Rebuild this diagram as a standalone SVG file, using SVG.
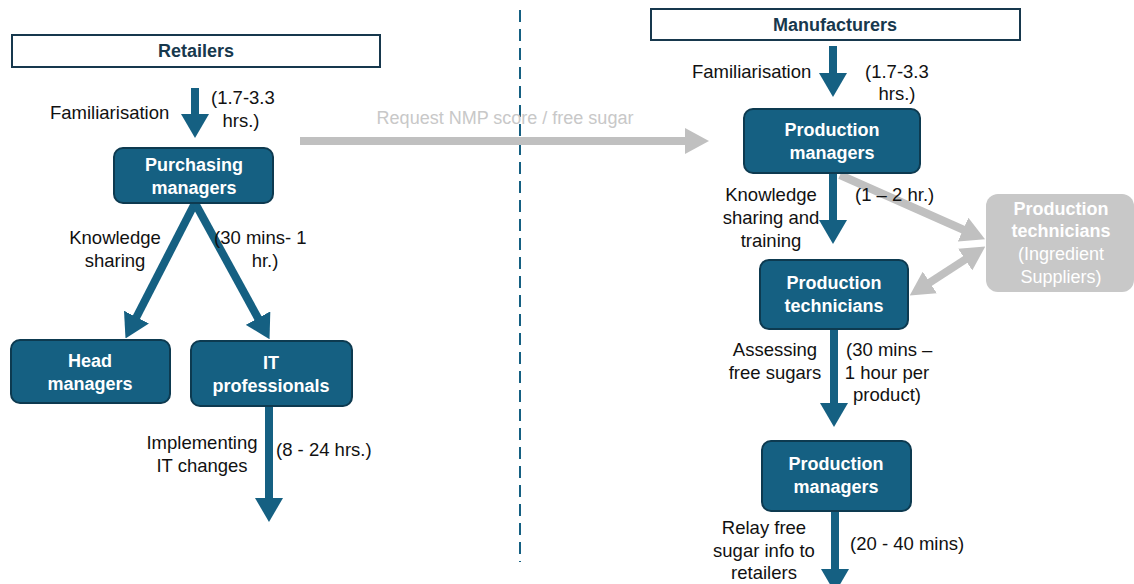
<svg xmlns="http://www.w3.org/2000/svg" width="1134" height="584" viewBox="0 0 1134 584">
<defs>
<style>
.hdr{fill:#fff;stroke:#17384d;stroke-width:2}
.hdrt{font-family:"Liberation Sans",Arial,sans-serif;font-weight:bold;font-size:18px;fill:#17384d;text-anchor:middle}
.node{fill:#156082;stroke:#0d3a50;stroke-width:2}
.nt{font-family:"Liberation Sans",Arial,sans-serif;font-weight:bold;font-size:18px;fill:#fff;text-anchor:middle}
.gnode{fill:#c8c8c8}
.gt{font-family:"Liberation Sans",Arial,sans-serif;font-size:18px;fill:#fff;text-anchor:middle}
.lbl{font-family:"Liberation Sans",Arial,sans-serif;font-size:18.5px;fill:#111}
.glbl{font-family:"Liberation Sans",Arial,sans-serif;font-size:18px;fill:#c8c8c8}
.blue{stroke:#156082;stroke-width:8;fill:none}
.gray{stroke:#c0c0c0;stroke-width:8;fill:none}
</style>
<marker id="hb" markerUnits="userSpaceOnUse" viewBox="0 0 24 28" refX="1" refY="14" markerWidth="24" markerHeight="28" orient="auto-start-reverse"><path d="M0,0 L24,14 L0,28 z" fill="#156082"/></marker>
<marker id="hg" markerUnits="userSpaceOnUse" viewBox="0 0 24 26" refX="1" refY="13" markerWidth="24" markerHeight="26" orient="auto-start-reverse"><path d="M0,0 L24,13 L0,26 z" fill="#c0c0c0"/></marker>
</defs>
<rect width="1134" height="584" fill="#fff"/>
<line x1="520" y1="10" x2="520" y2="562" stroke="#156082" stroke-width="2" stroke-dasharray="12,7"/>

<g id="connectors">
<line class="blue" x1="195" y1="88" x2="195" y2="115" marker-end="url(#hb)"/>
<line class="blue" x1="195" y1="203" x2="136" y2="318" marker-end="url(#hb)"/>
<line class="blue" x1="195" y1="203" x2="258.5" y2="319" marker-end="url(#hb)"/>
<line class="blue" x1="269" y1="406" x2="269" y2="499" marker-end="url(#hb)"/>
<line class="gray" x1="300" y1="141" x2="686" y2="141" marker-end="url(#hg)"/>
<line class="blue" x1="833" y1="46" x2="833" y2="74" marker-end="url(#hb)"/>
<line class="blue" x1="833" y1="173" x2="833" y2="221" marker-end="url(#hb)"/>
<line class="gray" x1="840" y1="175" x2="964" y2="230" marker-end="url(#hg)"/>
<line class="gray" x1="929" y1="283" x2="966" y2="259" marker-start="url(#hg)" marker-end="url(#hg)"/>
<line class="blue" x1="834" y1="329" x2="834" y2="404" marker-end="url(#hb)"/>
<line class="blue" x1="835" y1="511" x2="835" y2="570" marker-end="url(#hb)"/>
</g>

<g id="labels">
<text class="lbl" x="50" y="119">Familiarisation</text>
<text class="lbl" x="211" y="104">(1.7-3.3</text>
<text class="lbl" x="241" y="127" text-anchor="middle">hrs.)</text>
<text class="lbl" x="115" y="244" text-anchor="middle">Knowledge</text>
<text class="lbl" x="115" y="267" text-anchor="middle">sharing</text>
<text class="lbl" x="214" y="244">(30 mins- 1</text>
<text class="lbl" x="265" y="267" text-anchor="middle">hr.)</text>
<text class="lbl" x="202" y="449" text-anchor="middle">Implementing</text>
<text class="lbl" x="202" y="472" text-anchor="middle">IT changes</text>
<text class="lbl" x="276" y="456">(8 - 24 hrs.)</text>
<text class="glbl" x="505" y="124" text-anchor="middle">Request NMP score / free sugar</text>
<text class="lbl" x="692" y="78">Familiarisation</text>
<text class="lbl" x="865" y="78">(1.7-3.3</text>
<text class="lbl" x="897" y="100" text-anchor="middle">hrs.)</text>
<text class="lbl" x="771" y="201" text-anchor="middle">Knowledge</text>
<text class="lbl" x="771" y="224" text-anchor="middle">sharing and</text>
<text class="lbl" x="771" y="247" text-anchor="middle">training</text>
<text class="lbl" x="855" y="201">(1 – 2 hr.)</text>
<text class="lbl" x="775" y="356" text-anchor="middle">Assessing</text>
<text class="lbl" x="775" y="379" text-anchor="middle">free sugars</text>
<text class="lbl" x="846" y="356">(30 mins –</text>
<text class="lbl" x="887" y="379" text-anchor="middle">1 hour per</text>
<text class="lbl" x="887" y="401" text-anchor="middle">product)</text>
<text class="lbl" x="764" y="534" text-anchor="middle">Relay free</text>
<text class="lbl" x="764" y="557" text-anchor="middle">sugar info to</text>
<text class="lbl" x="764" y="579" text-anchor="middle">retailers</text>
<text class="lbl" x="850" y="550">(20 - 40 mins)</text>
</g>

<g id="retailers">
<rect class="hdr" x="12" y="35" width="368" height="32"/>
<text class="hdrt" x="196" y="57">Retailers</text>
</g>
<g id="purchasing-managers">
<rect class="node" x="114" y="148" width="159" height="55" rx="9"/>
<text class="nt" x="194" y="171">Purchasing</text>
<text class="nt" x="194" y="194">managers</text>
</g>
<g id="head-managers">
<rect class="node" x="11" y="340" width="159" height="63" rx="9"/>
<text class="nt" x="90" y="367">Head</text>
<text class="nt" x="90" y="390">managers</text>
</g>
<g id="it-professionals">
<rect class="node" x="191" y="341" width="161" height="65" rx="9"/>
<text class="nt" x="271" y="369">IT</text>
<text class="nt" x="271" y="392">professionals</text>
</g>
<g id="manufacturers">
<rect class="hdr" x="651" y="9" width="369" height="31"/>
<text class="hdrt" x="835" y="31">Manufacturers</text>
</g>
<g id="production-managers-1">
<rect class="node" x="744" y="109" width="176" height="64" rx="9"/>
<text class="nt" x="832" y="136">Production</text>
<text class="nt" x="832" y="159">managers</text>
</g>
<g id="ingredient-suppliers">
<rect class="gnode" x="986" y="194" width="148" height="98" rx="12"/>
<text class="nt" x="1061" y="215">Production</text>
<text class="nt" x="1061" y="237">technicians</text>
<text class="gt" x="1061" y="260">(Ingredient</text>
<text class="gt" x="1061" y="283">Suppliers)</text>
</g>
<g id="production-technicians">
<rect class="node" x="760" y="260" width="148" height="69" rx="9"/>
<text class="nt" x="834" y="289">Production</text>
<text class="nt" x="834" y="312">technicians</text>
</g>
<g id="production-managers-2">
<rect class="node" x="762" y="441" width="149" height="70" rx="9"/>
<text class="nt" x="836" y="470">Production</text>
<text class="nt" x="836" y="493">managers</text>
</g>
</svg>
